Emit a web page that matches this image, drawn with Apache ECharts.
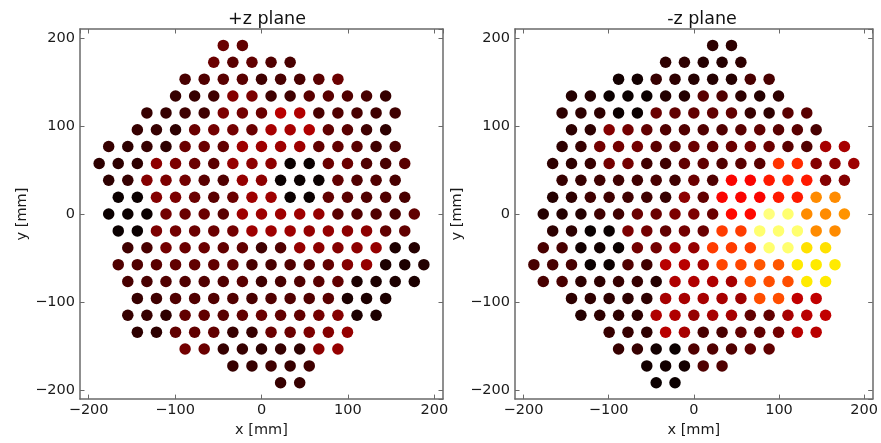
<!DOCTYPE html>
<html><head><meta charset="utf-8">
<script src="https://cdn.jsdelivr.net/npm/echarts@6/dist/echarts.min.js"></script>
<style>html,body{margin:0;padding:0;background:#fff}#c{width:881px;height:443px}</style>
</head><body><div id="c"></div>
<script>
// ---- Data ----
const pitch = 22.1; // mm, spacing between neighbouring dots in a row
// y of every row (mm), top to bottom
const rowY = [191.4, 172.3, 153.1, 134.0, 114.8, 95.7, 76.6, 57.4, 38.3, 19.1, 0,
              -19.1, -38.3, -57.4, -76.6, -95.7, -114.8, -134.0, -153.1, -172.3, -191.4];
// x of the first (left-most) dot of each row on the +z plane, in pitch units
const plusRowStart = [-2, -2.5, -4, -4.5, -6, -6.5, -8, -8.5, -8, -7.5, -8,
                      -7.5, -7, -7.5, -7, -6.5, -7, -6.5, -4, -1.5, 1];
// x of the first dot of each row on the -z plane, in pitch units (mirror image)
const minusRowStart = [1, -1.5, -4, -6.5, -7, -6.5, -7, -7.5, -7, -7.5, -8,
                       -7.5, -8, -8.5, -8, -6.5, -6, -4.5, -4, -2.5, -2];
// colour-scale values per dot, row by row, left to right
const plusValues = [
 [11,10],
 [11,9,10,8,7],
 [7,8,9,9,6,7,7,9,11],
 [5,5,6,14,13,6,6,9,9,8,7,5],
 [5,5,6,6,13,12,11,20,19,7,8,7,6,6],
 [5,5,4,11,12,12,11,18,18,19,10,9,6,4],
 [5,4,5,4,11,11,10,17,17,17,17,10,10,9,6,7],
 [4,4,4,15,13,11,9,16,15,15,0,0,11,11,8,7,9],
 [4,5,14,13,12,9,8,16,15,0,0,0,10,8,8,7],
 [0,0,14,13,11,9,11,17,17,0,0,10,9,8,8,7],
 [0,0,0,12,11,11,9,17,17,17,17,16,9,8,8,7,10],
 [0,0,13,12,11,11,12,17,17,17,16,16,15,15,10,10],
 [6,7,12,11,11,10,10,6,8,16,15,14,15,16,2,3],
 [8,8,9,10,10,10,10,7,7,8,9,10,14,16,2,2,3],
 [7,7,8,8,8,8,9,6,7,8,9,10,2,2,2,2],
 [5,6,8,8,8,8,7,8,8,8,9,2,2,2],
 [5,5,4,10,10,9,10,11,10,10,12,14,2,2],
 [4,4,10,10,10,5,5,11,11,13,14,16],
 [12,11,5,5,4,5,4,15,16],
 [5,5,6,5,6],
 [5,5]
];
const minusValues = [
 [4,4],
 [4,4,3,3,4],
 [1,1,5,4,3,3,3,7,7],
 [3,3,0,0,0,3,3,9,8,4,3,4],
 [4,4,4,0,0,11,10,10,10,10,5,4,9,9],
 [4,4,14,12,10,8,8,8,8,9,10,9,9,7],
 [4,5,12,12,12,9,9,11,10,11,12,11,9,8,18,18],
 [4,4,5,12,12,6,6,10,10,8,9,9,34,33,14,15,17],
 [5,5,6,6,6,7,6,11,8,28,28,31,32,31,14,14],
 [3,4,6,6,6,6,5,15,10,28,28,28,31,31,44,44],
 [3,3,3,6,6,11,11,13,13,11,29,29,67,66,44,44,45],
 [4,4,0,0,13,12,10,12,11,35,35,66,66,66,44,44],
 [7,7,1,1,0,12,12,17,16,35,35,35,66,66,54,54],
 [7,7,7,0,0,8,6,20,20,18,36,36,38,38,55,55,55],
 [7,7,4,4,5,5,3,19,19,19,18,37,37,37,55,55],
 [4,4,4,4,4,18,18,18,18,17,37,37,21,21],
 [3,4,4,4,19,19,16,18,18,10,10,18,20,21],
 [5,5,4,20,18,7,7,10,10,12,20,20],
 [5,5,1,0,8,8,8,10,10],
 [1,1,1,8,8],
 [0,0]
];
const titles = ['+z plane', '-z plane'];
const xName = 'x [mm]', yName = 'y [mm]';
const axisMin = -210, axisMax = 210;
const scaleMax = 77;

// ---- build ----
function buildPoints(starts, values) {
  const pts = [];
  values.forEach((row, r) => {
    row.forEach((v, k) => {
      pts.push([(starts[r] + k) * pitch, rowY[r], v]);
    });
  });
  return pts;
}
function hot(t) {
  const r = t < 0.365079 ? 0.0416 + (1 - 0.0416) * t / 0.365079 : 1;
  const g = t < 0.365079 ? 0 : (t < 0.746032 ? (t - 0.365079) / (0.746032 - 0.365079) : 1);
  const b = t < 0.746032 ? 0 : (t - 0.746032) / (1 - 0.746032);
  const c = x => Math.round(Math.max(0, Math.min(1, x)) * 255);
  return 'rgb(' + c(r) + ',' + c(g) + ',' + c(b) + ')';
}
const hotStops = [];
for (let i = 0; i <= 40; i++) hotStops.push(hot(i / 40));

const FONT = 'DejaVu Sans';
const lineCol = '#6a6a6a';
const fmt = v => (v < 0 ? '\u2212' + Math.abs(v) : String(v));

function xAx(grid, pos) {
  const main = pos === 'bottom';
  return {
    type: 'value', gridIndex: grid, position: pos, min: axisMin, max: axisMax, splitNumber: 4,
    name: main ? xName : '', nameLocation: 'middle', nameGap: 22,
    nameTextStyle: { fontFamily: FONT, fontSize: 14.5, color: '#1a1a1a' },
    axisLine: { show: true, onZero: false, lineStyle: { color: lineCol, width: 1.5 } },
    axisTick: { show: true, inside: true, length: 4.5, lineStyle: { color: lineCol, width: 1 } },
    axisLabel: { show: main, margin: 4, formatter: fmt, showMinLabel: false, showMaxLabel: false,
                 fontFamily: FONT, fontSize: 14.5, color: '#1a1a1a' },
    splitLine: { show: false }
  };
}
function yAx(grid, pos) {
  const main = pos === 'left';
  return {
    type: 'value', gridIndex: grid, position: pos, min: axisMin, max: axisMax, splitNumber: 4,
    name: main ? yName : '', nameLocation: 'middle', nameGap: 50, nameRotate: 90,
    nameTextStyle: { fontFamily: FONT, fontSize: 14.5, color: '#1a1a1a' },
    axisLine: { show: true, onZero: false, lineStyle: { color: lineCol, width: 1.5 } },
    axisTick: { show: true, inside: true, length: 4.5, lineStyle: { color: lineCol, width: 1 } },
    axisLabel: { show: main, margin: 5, formatter: fmt, showMinLabel: false, showMaxLabel: false,
                 fontFamily: FONT, fontSize: 14.5, color: '#1a1a1a' },
    splitLine: { show: false }
  };
}

const chart = echarts.init(document.getElementById('c'), null, { renderer: 'canvas' });
const dotStyle = { opacity: 1, borderWidth: 0 };
chart.setOption({
  animation: false,
  backgroundColor: '#fff',
  title: [
    { text: titles[0], left: 262, top: 5, textAlign: 'center',
      textStyle: { fontFamily: FONT, fontSize: 17.5, fontWeight: 'normal', color: '#111' } },
    { text: titles[1], left: 697, top: 5, textAlign: 'center',
      textStyle: { fontFamily: FONT, fontSize: 17.5, fontWeight: 'normal', color: '#111' } }
  ],
  grid: [
    { left: 80, top: 29, width: 363, height: 375 },
    { left: 515, top: 29, width: 362, height: 375 }
  ],
  xAxis: [xAx(0, 'bottom'), xAx(0, 'top'), xAx(1, 'bottom'), xAx(1, 'top')],
  yAxis: [yAx(0, 'left'), yAx(0, 'right'), yAx(1, 'left'), yAx(1, 'right')],
  visualMap: {
    show: false, type: 'continuous', min: 0, max: scaleMax, dimension: 2,
    seriesIndex: [0, 1], inRange: { color: hotStops }
  },
  series: [
    { type: 'scatter', xAxisIndex: 0, yAxisIndex: 0, symbol: 'circle', symbolSize: 11.5,
      itemStyle: dotStyle, data: buildPoints(plusRowStart, plusValues) },
    { type: 'scatter', xAxisIndex: 2, yAxisIndex: 2, symbol: 'circle', symbolSize: 11.5,
      itemStyle: dotStyle, data: buildPoints(minusRowStart, minusValues) }
  ]
});
</script>
</body></html>
